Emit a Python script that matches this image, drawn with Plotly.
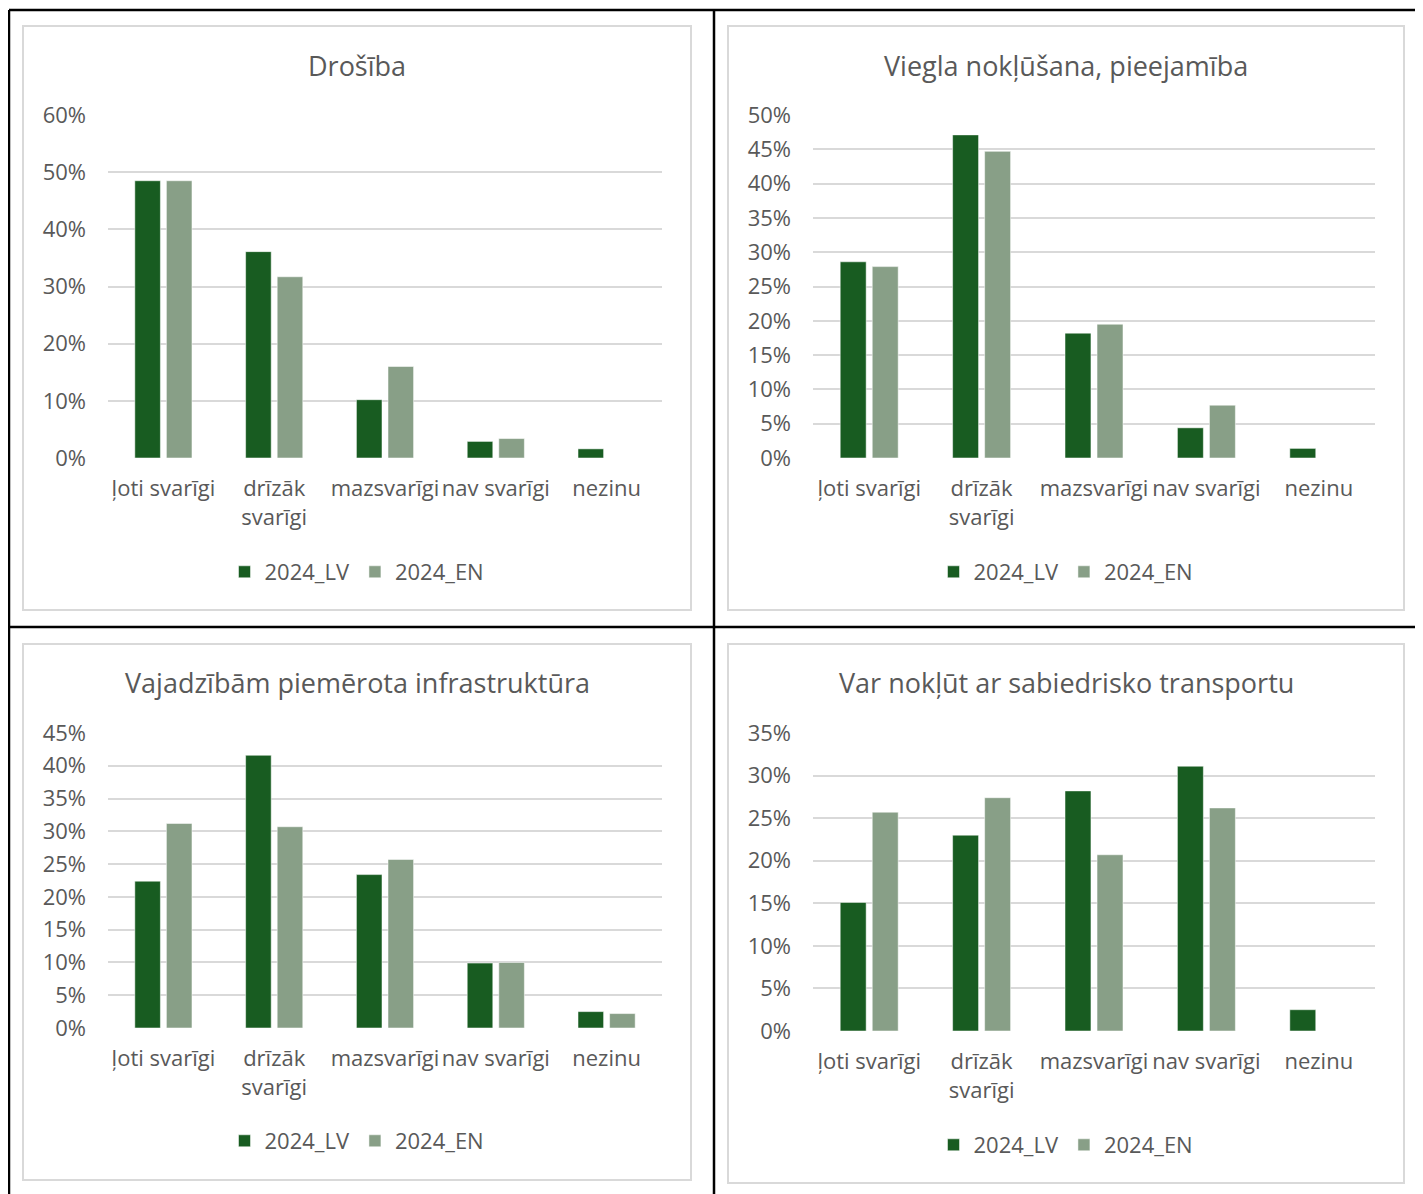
import plotly.graph_objects as go

# categories and series values (percent) for the four charts
categories = ["ļoti svarīgi", "drīzāk svarīgi", "mazsvarīgi", "nav svarīgi", "nezinu"]
tick_labels = ["ļoti svarīgi", "drīzāk<br>svarīgi", "mazsvarīgi", "nav svarīgi", "nezinu"]
series_names = ["2024_LV", "2024_EN"]

titles = [
    "Drošība",
    "Viegla nokļūšana, pieejamība",
    "Vajadzībām piemērota infrastruktūra",
    "Var nokļūt ar sabiedrisko transportu",
]

drosiba_lv = [48.5, 36.1, 10.2, 2.9, 1.6]
drosiba_en = [48.5, 31.7, 16.0, 3.4, 0]

viegla_lv = [28.6, 47.1, 18.2, 4.4, 1.4]
viegla_en = [27.9, 44.7, 19.5, 7.7, 0]

infra_lv = [22.4, 41.6, 23.4, 9.9, 2.5]
infra_en = [31.2, 30.7, 25.7, 10.0, 2.2]

transports_lv = [15.1, 23.0, 28.2, 31.1, 2.5]
transports_en = [25.7, 27.4, 20.7, 26.2, 0]

y_max = [60, 50, 45, 35]
y_step = [10, 5, 5, 5]

W, H = 1423, 1194
OFF = 8  # page body margin of the browser
FONT = "Open Sans"
TEXT = "#595959"
GRID = "#D9D9D9"
colors = ["#185C21", "#889F87"]


def px(x):
    return (x - OFF) / W


def py(y):
    return 1 - (y - OFF) / H


# pixel geometry of each chart (screen coords): plot area and outer box
panels = [
    dict(x0=108, x1=662, top=115, bot=458, box=(23, 26, 691, 610), title_y=65, leg_y=572),
    dict(x0=813, x1=1375, top=115, bot=458, box=(728, 26, 1404, 610), title_y=65, leg_y=572),
    dict(x0=108, x1=662, top=733, bot=1028, box=(23, 644, 691, 1180), title_y=683, leg_y=1141),
    dict(x0=813, x1=1375, top=733, bot=1031, box=(728, 644, 1404, 1183), title_y=683, leg_y=1145),
]

data = [
    (drosiba_lv, drosiba_en),
    (viegla_lv, viegla_en),
    (infra_lv, infra_en),
    (transports_lv, transports_en),
]

fig = go.Figure()
shapes = []
annotations = []
layout = {}

for i, (p, vals) in enumerate(zip(panels, data)):
    n = "" if i == 0 else str(i + 1)
    leg = "legend" + n
    for j, v in enumerate(vals):
        fig.add_trace(
            go.Bar(
                x=categories,
                y=v,
                name=series_names[j],
                marker=dict(color=colors[j], line=dict(color="rgba(255,255,255,0.5)", width=1)),
                xaxis="x" + n,
                yaxis="y" + n,
                legend=leg,
            )
        )

    layout["xaxis" + n] = dict(
        domain=[px(p["x0"]), px(p["x1"])],
        anchor="y" + n,
        type="category",
        tickvals=categories,
        ticktext=tick_labels,
        showgrid=False,
        showline=False,
        ticks="",
        ticklabelstandoff=15,
        automargin=False,
        tickfont=dict(family=FONT, size=22, color=TEXT),
        fixedrange=True,
    )
    layout["yaxis" + n] = dict(
        domain=[py(p["bot"]), py(p["top"])],
        anchor="x" + n,
        range=[0, y_max[i]],
        dtick=y_step[i],
        ticksuffix="%",
        showgrid=True,
        gridcolor=GRID,
        gridwidth=2,
        zeroline=False,
        showline=False,
        ticks="",
        ticklabelstandoff=21,
        automargin=False,
        tickfont=dict(family=FONT, size=22, color=TEXT),
        fixedrange=True,
    )
    layout[leg] = dict(
        orientation="h",
        x=px((p["box"][0] + p["box"][2]) / 2),
        y=py(p["leg_y"]),
        xanchor="center",
        yanchor="middle",
        font=dict(family=FONT, size=22, color=TEXT),
        bgcolor="rgba(0,0,0,0)",
        itemwidth=30,
        tracegroupgap=0,
    )

    annotations.append(
        dict(
            text=titles[i],
            x=px((p["box"][0] + p["box"][2]) / 2),
            y=py(p["title_y"]),
            xref="paper",
            yref="paper",
            xanchor="center",
            yanchor="middle",
            showarrow=False,
            font=dict(family=FONT, size=27, color=TEXT),
        )
    )

    bx0, by0, bx1, by1 = p["box"]
    shapes.append(
        dict(
            type="rect",
            xref="paper",
            yref="paper",
            x0=px(bx0),
            y0=py(by0),
            x1=px(bx1),
            y1=py(by1),
            line=dict(color=GRID, width=2),
            layer="below",
        )
    )

# black table borders
for x0, y0, x1, y1 in [(9, 10, 1431, 10), (9, 10, 9, 1202), (714, 10, 714, 1202), (9, 627, 1431, 627)]:
    shapes.append(
        dict(
            type="line",
            xref="paper",
            yref="paper",
            x0=px(x0),
            y0=py(y0),
            x1=px(x1),
            y1=py(y1),
            line=dict(color="black", width=2.5),
        )
    )

fig.update_layout(
    width=W,
    height=H,
    margin=dict(l=0, r=0, t=0, b=0, autoexpand=False),
    paper_bgcolor="white",
    plot_bgcolor="white",
    barmode="group",
    bargap=0.43,
    bargroupgap=0.19,
    showlegend=True,
    shapes=shapes,
    annotations=annotations,
    font=dict(family=FONT, color=TEXT),
    **layout,
)

fig.write_html("out.html")
